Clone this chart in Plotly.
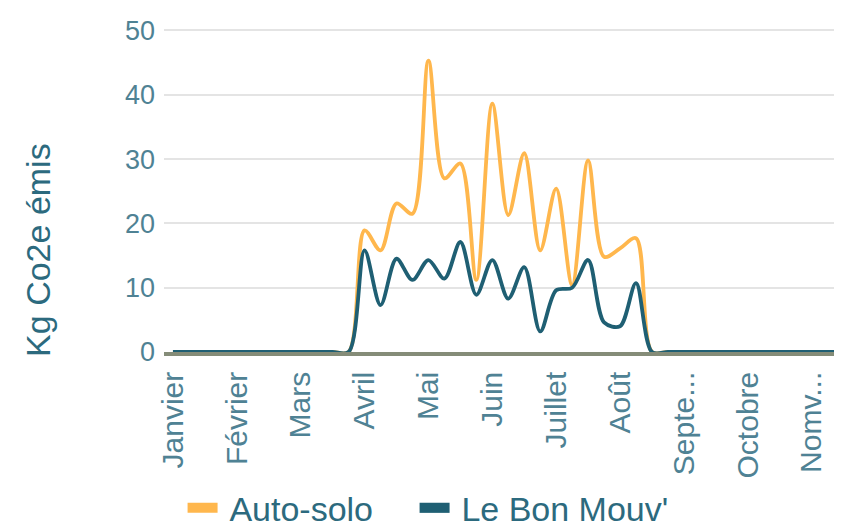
import plotly.graph_objects as go

# ---- data (weekly points, 4 per month) ----
weeks = list(range(48))
auto_solo = [0]*12 + [18.9, 15.8, 23.1, 21.5, 45.3, 27.0, 29.3, 11.2, 38.6, 21.3,
                      30.9, 15.8, 25.4, 10.4, 29.8, 14.8, 16.1, 17.7] + [0]*18
bon_mouv = [0]*12 + [15.8, 7.3, 14.5, 11.2, 14.3, 11.4, 17.1, 8.9, 14.3, 8.3,
                     13.2, 3.2, 9.6, 10.0, 14.3, 4.6, 4.0, 10.7] + [0]*18
month_pos = [0, 4, 8, 12, 16, 20, 24, 28, 32, 36, 40, 44]
month_labels = ["Janvier", "Février", "Mars", "Avril", "Mai", "Juin", "Juillet",
                "Août", "Septe...", "Octobre", "Nomv...", "Décembre"]
y_ticks = [0, 10, 20, 30, 40, 50]
series_names = ["Auto-solo", "Le Bon Mouv'"]

ORANGE = "#FFB74D"
TEAL = "#1F5F73"
TXT = "#2C6A7E"
TICK = "#4F8294"
FONT = "Liberation Sans, Arial, sans-serif"

fig = go.Figure()
for vals, col, nm in [(auto_solo, ORANGE, series_names[0]), (bon_mouv, TEAL, series_names[1])]:
    fig.add_trace(go.Scatter(x=weeks, y=vals, mode="lines", name=nm,
                             line=dict(color=col, width=3.8, shape="spline", smoothing=0.9),
                             showlegend=False))
# legend swatches (no data)
fig.add_trace(go.Scatter(x=[None], y=[None], mode="lines", name="\u2009" + series_names[0],
                         line=dict(color=ORANGE, width=10), legendwidth=187))
fig.add_trace(go.Scatter(x=[None], y=[None], mode="lines", name="\u2009" + series_names[1],
                         line=dict(color=TEAL, width=10)))

# the page body has an 8px margin, so the figure is 8px smaller than the window
fig.update_layout(
    width=834, height=524,
    margin=dict(l=156, r=0, t=16, b=180, autoexpand=False),
    paper_bgcolor="white", plot_bgcolor="white",
    font=dict(family=FONT, color=TXT),
    legend=dict(orientation="h", x=0.0274, xanchor="left", y=-0.388, yanchor="top",
                font=dict(size=34, color=TXT), itemwidth=30,
                bgcolor="rgba(0,0,0,0)"),
    annotations=[dict(text="Kg Co2e émis", textangle=-90, xref="paper", yref="paper",
                      x=-0.186, y=0.311, xanchor="center", yanchor="middle",
                      showarrow=False, font=dict(size=34, color=TXT, family=FONT))],
)
fig.update_xaxes(range=[-0.56, 41.9], tickmode="array", tickvals=month_pos,
                 ticktext=month_labels, tickangle=-90, showgrid=False,
                 zeroline=False, showline=True, linecolor="#858C78", linewidth=3.5,
                 layer="above traces", ticklabelstandoff=4, automargin=False,
                 tickfont=dict(size=30, color=TICK, family=FONT))
fig.update_yaxes(range=[0, 51], tickmode="array", tickvals=y_ticks,
                 showgrid=True, gridcolor="#E4E4E4", gridwidth=2,
                 zeroline=False, ticklabelstandoff=8, automargin=False,
                 tickfont=dict(size=27, color=TICK, family=FONT))

fig.write_html("out.html")
